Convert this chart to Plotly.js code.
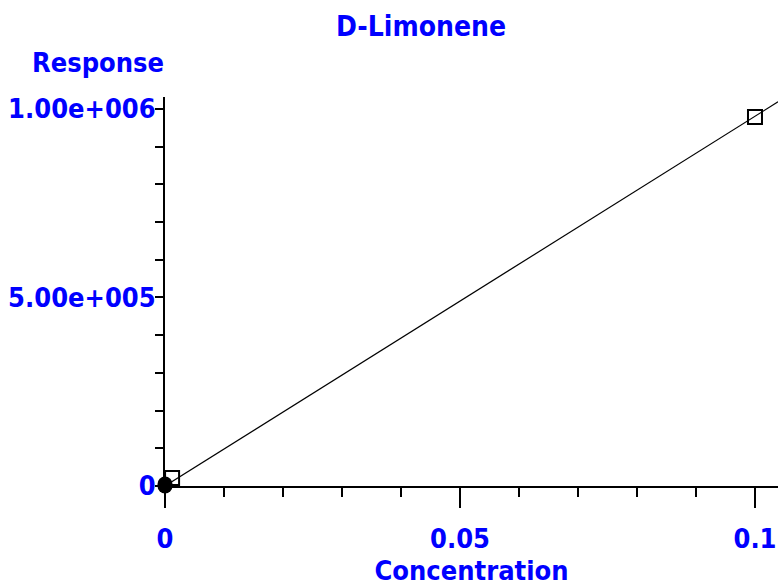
<!DOCTYPE html>
<html>
<head>
<meta charset="utf-8">
<script src="https://cdn.plot.ly/plotly-3.0.1.min.js"></script>
<style>html,body{margin:0;padding:0;background:#fff;}#chart{width:778px;height:586px;}</style>
</head>
<body>
<div id="chart"></div>
<script>
// Data
var chartTitle = "D-Limonene";
var xTitle = "Concentration";
var yTitle = "Response";
var xTickVals = [0, 0.05, 0.1];
var xTickText = ["0", "0.05", "0.1"];
var yTickVals = [0, 500000, 1000000];
var yTickText = ["0", "5.00e+005", "1.00e+006"];
// calibration points
var filledX = [0, 0];
var filledY = [0, 5000];
var openX = [0.0012, 0.1];
var openY = [21000, 979000];
// fitted line
var fitX = [0, 0.1039];
var fitY = [0, 1019000];

var FONT = '"DejaVu Sans Condensed", "Liberation Sans Narrow", "DejaVu Sans", sans-serif';
var BLUE = '#0000ff';

var traces = [
  {x: fitX, y: fitY, mode: 'lines', line: {color: '#000', width: 1.2}, hoverinfo: 'skip', cliponaxis: false},
  {x: filledX, y: filledY, mode: 'markers', marker: {symbol: 'circle', size: 15, color: '#000'}, cliponaxis: false},
  {x: openX, y: openY, mode: 'markers', marker: {symbol: 'square-open', size: 14, color: '#000', line: {width: 2}}, cliponaxis: false}
];

var layout = {
  width: 778, height: 586,
  margin: {l: 165, r: 0, t: 97, b: 100},
  paper_bgcolor: '#fff', plot_bgcolor: '#fff',
  showlegend: false,
  font: {family: FONT, color: BLUE},
  title: {text: '<b>' + chartTitle + '</b>', font: {family: FONT, size: 28, color: BLUE},
          x: 421/778, xanchor: 'center', xref: 'container', y: 1 - 26/586, yanchor: 'middle', yref: 'container'},
  xaxis: {
    range: [0, 0.1039], autorange: false,
    showgrid: false, zeroline: false,
    showline: true, linecolor: '#000', linewidth: 2,
    tickmode: 'array', tickvals: xTickVals, ticktext: xTickText.map(function(t){return '<b>'+t+'</b>';}),
    ticks: 'outside', ticklen: 20, tickwidth: 2, tickcolor: '#000',
    ticklabelstandoff: 8,
    tickfont: {family: FONT, size: 27, color: BLUE},
    minor: {tickmode: 'linear', tick0: 0, dtick: 0.01, ticks: 'outside', ticklen: 9, tickwidth: 2, tickcolor: '#000'},
    title: {text: '<b>' + xTitle + '</b>', font: {family: FONT, size: 27, color: BLUE}, standoff: 12}
  },
  yaxis: {
    range: [0, 1031800], autorange: false,
    showgrid: false, zeroline: false,
    showline: true, linecolor: '#000', linewidth: 2,
    tickmode: 'array', tickvals: yTickVals, ticktext: yTickText.map(function(t){return '<b>'+t+'</b>';}),
    ticks: 'outside', ticklen: 8, tickwidth: 2, tickcolor: '#000',
    ticklabelstandoff: -6,
    tickfont: {family: FONT, size: 27, color: BLUE},
    minor: {tickmode: 'linear', tick0: 0, dtick: 100000, ticks: 'outside', ticklen: 8, tickwidth: 2, tickcolor: '#000'}
  },
  shapes: [
    {type: 'line', xref: 'paper', yref: 'paper', x0: 0, x1: 0, y0: 0, y1: -14/389, line: {color: '#000', width: 2}}
  ],
  annotations: [
    {text: '<b>' + yTitle + '</b>', xref: 'paper', yref: 'paper', x: (98-165)/613, y: (486-62)/389,
     xanchor: 'center', yanchor: 'middle', showarrow: false, font: {family: FONT, size: 27, color: BLUE}}
  ]
};

Plotly.newPlot('chart', traces, layout, {displayModeBar: false, staticPlot: true});
</script>
</body>
</html>
